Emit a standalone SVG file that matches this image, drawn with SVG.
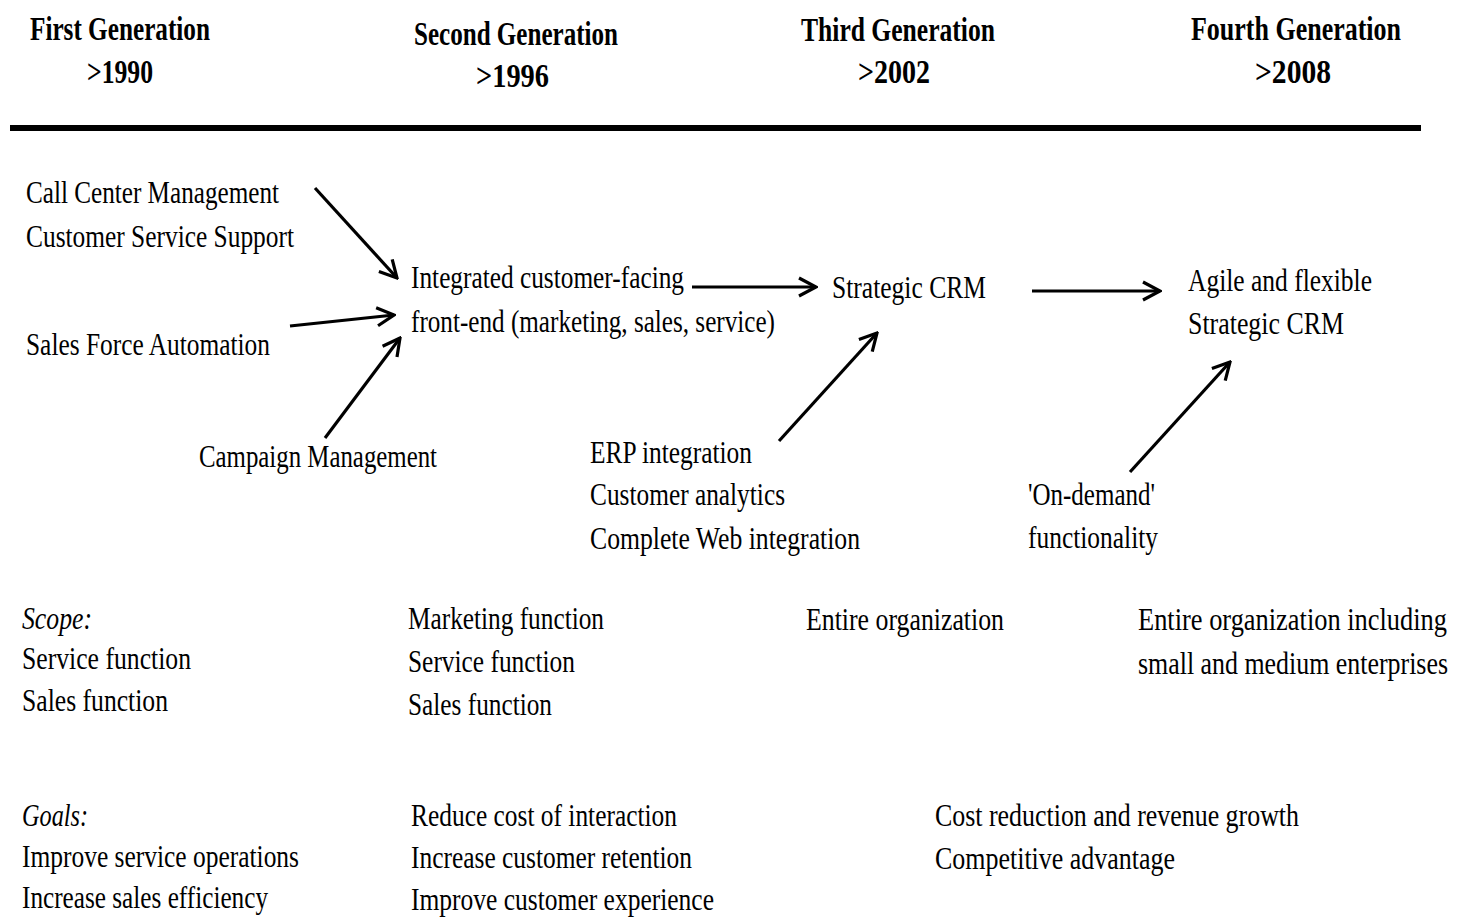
<svg xmlns="http://www.w3.org/2000/svg" width="1463" height="917" viewBox="0 0 1463 917">
  <style>
    text { font-family: "Liberation Serif", "Times New Roman", serif; fill: #000; }
    .hd { font-size: 33px; font-weight: bold; }
    .tx { font-size: 31px; }
    .tn { font-size: 26px; }
    .it { font-size: 31px; font-style: italic; }
    .conn { stroke: #000; stroke-width: 3.2; fill: none; marker-end: url(#arrow); }
  </style>
  <defs>
    <marker id="arrow" viewBox="0 0 22 22" markerWidth="22" markerHeight="22" refX="20" refY="11" orient="auto" markerUnits="userSpaceOnUse">
      <path d="M3,2 L20,11 L3,20" stroke="#000" stroke-width="3.2" fill="none" stroke-linejoin="miter"/>
    </marker>
  </defs>
  <rect width="1463" height="917" fill="#fff"/>

  <!-- generation headings -->
  <g id="gen1">
    <text class="hd" x="30" y="40" textLength="180" lengthAdjust="spacingAndGlyphs">First Generation</text>
    <text class="hd" x="87" y="83" textLength="66" lengthAdjust="spacingAndGlyphs">&gt;1990</text>
  </g>
  <g id="gen2">
    <text class="hd" x="414" y="45" textLength="204" lengthAdjust="spacingAndGlyphs">Second Generation</text>
    <text class="hd" x="476" y="87" textLength="73" lengthAdjust="spacingAndGlyphs">&gt;1996</text>
  </g>
  <g id="gen3">
    <text class="hd" x="801" y="41" textLength="194" lengthAdjust="spacingAndGlyphs">Third Generation</text>
    <text class="hd" x="858" y="83" textLength="72" lengthAdjust="spacingAndGlyphs">&gt;2002</text>
  </g>
  <g id="gen4">
    <text class="hd" x="1191" y="40" textLength="210" lengthAdjust="spacingAndGlyphs">Fourth Generation</text>
    <text class="hd" x="1255" y="83" textLength="76" lengthAdjust="spacingAndGlyphs">&gt;2008</text>
  </g>

  <!-- heading rule -->
  <line x1="10" y1="128" x2="1421" y2="128" stroke="#000" stroke-width="6"/>

  <!-- first generation sources -->
  <g id="call-center">
    <text class="tx" x="26" y="203" textLength="253" lengthAdjust="spacingAndGlyphs">Call Center Management</text>
    <text class="tx" x="26" y="247" textLength="268" lengthAdjust="spacingAndGlyphs">Customer Service Support</text>
  </g>
  <g id="sales-force">
    <text class="tx" x="26" y="355" textLength="244" lengthAdjust="spacingAndGlyphs">Sales Force Automation</text>
  </g>
  <g id="campaign">
    <text class="tx" x="199" y="467" textLength="238" lengthAdjust="spacingAndGlyphs">Campaign Management</text>
  </g>

  <!-- second generation -->
  <g id="integrated">
    <text class="tx" x="411" y="288" textLength="273" lengthAdjust="spacingAndGlyphs">Integrated customer-facing</text>
    <text class="tx" x="411" y="332" textLength="364" lengthAdjust="spacingAndGlyphs">front-end (marketing, sales, service)</text>
  </g>

  <!-- third generation -->
  <g id="strategic-crm">
    <text class="tx" x="832" y="298" textLength="154" lengthAdjust="spacingAndGlyphs">Strategic CRM</text>
  </g>
  <g id="erp">
    <text class="tx" x="590" y="463" textLength="162" lengthAdjust="spacingAndGlyphs">ERP integration</text>
    <text class="tx" x="590" y="505" textLength="195" lengthAdjust="spacingAndGlyphs">Customer analytics</text>
    <text class="tx" x="590" y="549" textLength="270" lengthAdjust="spacingAndGlyphs">Complete Web integration</text>
  </g>

  <!-- fourth generation -->
  <g id="agile-crm">
    <text class="tx" x="1188" y="291" textLength="184" lengthAdjust="spacingAndGlyphs">Agile and flexible</text>
    <text class="tx" x="1188" y="334" textLength="156" lengthAdjust="spacingAndGlyphs">Strategic CRM</text>
  </g>
  <g id="on-demand">
    <text class="tx" x="1028" y="505" textLength="127" lengthAdjust="spacingAndGlyphs">'On-demand'</text>
    <text class="tx" x="1028" y="548" textLength="130" lengthAdjust="spacingAndGlyphs">functionality</text>
  </g>

  <!-- scope row -->
  <g id="scope">
    <text class="it" x="22" y="629" textLength="70" lengthAdjust="spacingAndGlyphs">Scope:</text>
    <text class="tx" x="22" y="669" textLength="169" lengthAdjust="spacingAndGlyphs">Service function</text>
    <text class="tx" x="22" y="711" textLength="146" lengthAdjust="spacingAndGlyphs">Sales function</text>
  </g>
  <g id="scope2">
    <text class="tx" x="408" y="629" textLength="196" lengthAdjust="spacingAndGlyphs">Marketing function</text>
    <text class="tx" x="408" y="672" textLength="167" lengthAdjust="spacingAndGlyphs">Service function</text>
    <text class="tx" x="408" y="715" textLength="144" lengthAdjust="spacingAndGlyphs">Sales function</text>
  </g>
  <g id="scope3">
    <text class="tx" x="806" y="630" textLength="198" lengthAdjust="spacingAndGlyphs">Entire organization</text>
  </g>
  <g id="scope4">
    <!-- smaller size stretched vertically so the long lines stay inside the right margin -->
    <text class="tn" transform="translate(1138,630) scale(1,1.18)" textLength="309" lengthAdjust="spacingAndGlyphs">Entire organization including</text>
    <text class="tn" transform="translate(1138,674) scale(1,1.18)" textLength="310" lengthAdjust="spacingAndGlyphs">small and medium enterprises</text>
  </g>

  <!-- goals row -->
  <g id="goals">
    <text class="it" x="22" y="826" textLength="66" lengthAdjust="spacingAndGlyphs">Goals:</text>
    <text class="tx" x="22" y="867" textLength="277" lengthAdjust="spacingAndGlyphs">Improve service operations</text>
    <text class="tx" x="22" y="908" textLength="246" lengthAdjust="spacingAndGlyphs">Increase sales efficiency</text>
  </g>
  <g id="goals2">
    <text class="tx" x="411" y="826" textLength="266" lengthAdjust="spacingAndGlyphs">Reduce cost of interaction</text>
    <text class="tx" x="411" y="868" textLength="281" lengthAdjust="spacingAndGlyphs">Increase customer retention</text>
    <text class="tx" x="411" y="910" textLength="303" lengthAdjust="spacingAndGlyphs">Improve customer experience</text>
  </g>
  <g id="goals3">
    <text class="tx" x="935" y="826" textLength="364" lengthAdjust="spacingAndGlyphs">Cost reduction and revenue growth</text>
    <text class="tx" x="935" y="869" textLength="240" lengthAdjust="spacingAndGlyphs">Competitive advantage</text>
  </g>

  <!-- connectors -->
  <g id="connectors">
    <line class="conn" x1="315" y1="188" x2="397" y2="278"/>
    <line class="conn" x1="290" y1="326" x2="394" y2="315"/>
    <line class="conn" x1="325" y1="438" x2="400" y2="338"/>
    <line class="conn" x1="692" y1="287" x2="816" y2="287"/>
    <line class="conn" x1="1032" y1="291" x2="1160" y2="291"/>
    <line class="conn" x1="779" y1="441" x2="877" y2="333"/>
    <line class="conn" x1="1130" y1="472" x2="1230" y2="362"/>
  </g>
</svg>
